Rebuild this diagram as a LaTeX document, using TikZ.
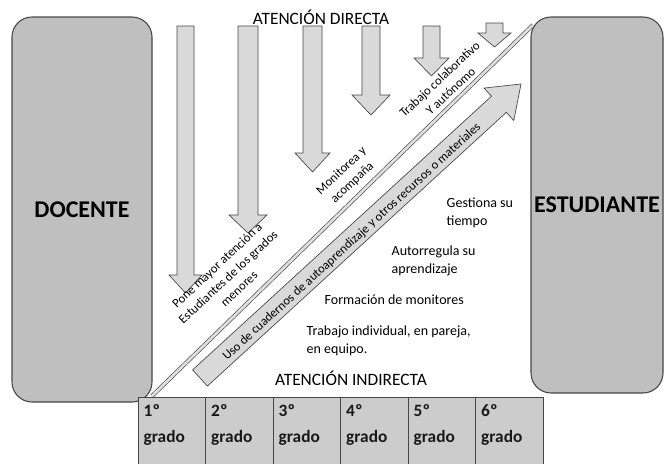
\documentclass[tikz,border=0pt]{standalone}
\usepackage{fontspec}
\setmainfont{Carlito}
\usepackage{tikz}

% down arrow: x1, x2, top, head start, tip, head extend
\newcommand{\flechabaja}[6]{%
  \draw[arrowfill] (#1,#3) -- (#2,#3) -- (#2,#4) -- ({#2+#6},#4)
    -- ({(#1+#2)/2},#5) -- ({#1-#6},#4) -- (#1,#4) -- cycle;}

\tikzset{
  bigbox/.style={draw=gray!55!black, fill=gray!50, rounded corners=15pt, line width=0.8pt},
  bigtext/.style={font=\fontsize{18}{20}\selectfont\bfseries},
  arrowfill/.style={draw=gray!55!black, fill=gray!30, line width=0.5pt},
  gradecell/.style={draw=gray!55!black, fill=gray!40, line width=0.5pt},
  gradetext/.style={anchor=west, align=left, text=gray!20!black, font=\fontsize{13}{19}\selectfont\bfseries},
  diagtext/.style={rotate=43, align=center, font=\fontsize{9.5}{12}\selectfont},
  plaintext/.style={anchor=west, align=left, font=\fontsize{10.5}{13.5}\selectfont},
  titletext/.style={font=\fontsize{13}{15}\selectfont},
}

\begin{document}
\begin{tikzpicture}[x=0.75pt,y=-0.75pt]
\useasboundingbox (0,0) rectangle (668,464);

\draw[bigbox] (12,17) rectangle (152,402) node[midway, bigtext] (docente) {DOCENTE};
\draw[bigbox] (531,17) rectangle (663,393) node[midway, bigtext] (estudiante) {ESTUDIANTE};

% direct attention arrows
\flechabaja{177}{194}{26}{275}{293}{8}
\flechabaja{238}{258}{26}{215}{233}{9}
\flechabaja{303}{322}{26}{153}{172}{8}
\flechabaja{362}{380}{26}{95}{115}{10}
\flechabaja{423}{440}{26}{58}{76}{9}
\flechabaja{486}{503}{23}{33}{47}{8}

% dividing line
\coordinate (lineaA) at (152,396);
\coordinate (lineaB) at (533,25);
\draw[gray!60!black, double=gray!25, double distance=2pt, line width=0.5pt] (lineaA) -- (lineaB);

% big diagonal arrow
\draw[arrowfill] (192.6,369.9) -- (491.5,96.2) -- (484.0,88.1) -- (521,84)
  -- (513.8,120.5) -- (506.3,112.4) -- (207.4,386.1) -- cycle;
\node[diagtext, rotate=-0.5] (cuadernos) at (352,242)
  {Uso de cuadernos de autoaprendizaje y otros recursos o materiales};

% labels
\node[titletext] (directa) at (321,17) {ATENCIÓN DIRECTA};
\node[titletext] (indirecta) at (351,378) {ATENCIÓN INDIRECTA};

\node[diagtext] (pone) at (228,277) {Pone mayor atención a\\Estudiantes de los grados\\menores};
\node[diagtext] (monitorea) at (347,177) {Monitorea y\\acompaña};
\node[diagtext] (colab) at (445,85) {Trabajo colaborativo\\Y autónomo};

\node[plaintext] (gestiona) at (442,213) {Gestiona su\\tiempo};
\node[plaintext] (autorregula) at (387,261) {Autorregula su\\aprendizaje};
\node[plaintext] (formacion) at (320,300) {Formación de monitores};
\node[plaintext] (individual) at (302,341) {Trabajo individual, en pareja,\\en equipo.};

% grades
\foreach \i in {1,...,6}{
  \draw[gradecell] ({138+67.5*(\i-1)},397) rectangle ++(67.5,70);
  \node[gradetext] (grado\i) at ({139+67.5*(\i-1)},425) {\i{}º\\grado};
}
\end{tikzpicture}
\end{document}
